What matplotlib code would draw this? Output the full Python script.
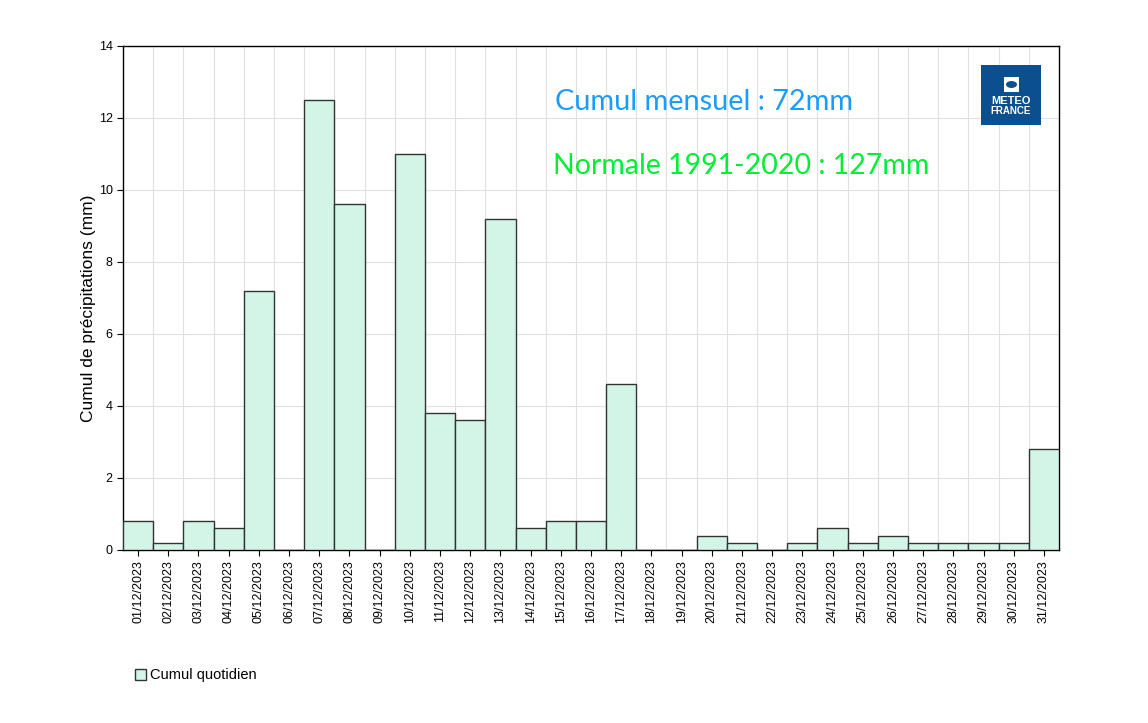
import matplotlib
matplotlib.use("Agg")
import matplotlib.pyplot as plt
from matplotlib.patches import Rectangle, Circle, Wedge

days = [f"{d:02d}/12/2023" for d in range(1, 32)]
values = [0.8, 0.2, 0.8, 0.6, 7.2, 0.0, 12.5, 9.6, 0.0, 11.0, 3.8, 3.6, 9.2,
          0.6, 0.8, 0.8, 4.6, 0.0, 0.0, 0.4, 0.2, 0.0, 0.2, 0.6, 0.2, 0.4,
          0.2, 0.2, 0.2, 0.2, 2.8]
y_ticks = [0, 2, 4, 6, 8, 10, 12, 14]
title_cumul = "Cumul mensuel : 72mm"
title_normale = "Normale 1991-2020 : 127mm"
ylabel = "Cumul de précipitations (mm)"
legend_label = "Cumul quotidien"

plt.rcParams['font.family'] = ['Liberation Sans', 'DejaVu Sans']
W, H = 1148, 723
fig = plt.figure(figsize=(W / 100, H / 100), dpi=100)
ax = fig.add_axes([123 / W, 1 - 550 / H, (1059 - 123) / W, (550 - 46) / H])

x = list(range(len(days)))
ax.bar(x, values, width=1.0, color="#d3f5e8", edgecolor="#333333", linewidth=1.0, zorder=3)
ax.set_xlim(-0.5, len(days) - 0.5)
ax.set_ylim(0, 14)
ax.set_yticks(y_ticks)
ax.set_yticklabels([str(v) for v in y_ticks], fontsize=9)
ax.set_xticks(x)
ax.set_xticklabels(days, rotation=90, fontsize=9)
ax.set_xticks([i + 0.5 for i in range(len(days) - 1)], minor=True)
ax.tick_params(axis='x', which='minor', length=0)
ax.tick_params(axis='x', which='major', length=4)
ax.tick_params(axis='y', length=4)
ax.grid(which='minor', axis='x', color="#e0e0e0", linewidth=0.8, zorder=0)
ax.grid(which='major', axis='y', color="#e0e0e0", linewidth=0.8, zorder=0)
for s in ax.spines.values():
    s.set_color("black")
    s.set_linewidth(1.0)
ax.set_ylabel(ylabel, fontsize=12.5)
ax.yaxis.set_label_coords(-27 / (1059 - 123), 0.48)

fig.text(555 / W, 1 - 102 / H, title_cumul, color="#1a9cff", fontsize=20.8,
         family=['Lato', 'DejaVu Sans'], va='center', ha='left')
fig.text(553 / W, 1 - 166 / H, title_normale, color="#00ee33", fontsize=20.5,
         family=['Lato', 'DejaVu Sans'], va='center', ha='left')

# logo
lx0, ly0, lw = 981, 65, 60
fig.patches.append(Rectangle((lx0 / W, 1 - (ly0 + lw) / H), lw / W, lw / H,
                             transform=fig.transFigure, facecolor="#0b4f8e",
                             edgecolor="none", zorder=5))
fig.patches.append(Rectangle((1004 / W, 1 - 92 / H), 15 / W, 15 / H,
                             transform=fig.transFigure, facecolor="white",
                             edgecolor="none", zorder=6))
fig.patches.append(Circle((1011.5 / W, 1 - 84.5 / H), 5.5 / W,
                          transform=fig.transFigure, facecolor="#0b4f8e",
                          edgecolor="none", zorder=7))
fig.text(1011 / W, 1 - 101 / H, "METEO", color="white", fontsize=8,
         fontweight='bold', ha='center', va='center', zorder=8)
fig.text(1011 / W, 1 - 111 / H, "FRANCE", color="white", fontsize=7,
         fontweight='bold', ha='center', va='center', zorder=8)

# legend
fig.patches.append(Rectangle((135 / W, 1 - 680 / H), 11 / W, 11 / H,
                             transform=fig.transFigure, facecolor="#d3f5e8",
                             edgecolor="#333333", linewidth=1.0, zorder=5))
fig.text(150 / W, 1 - 674.5 / H, legend_label, fontsize=10.5, va='center', ha='left')

fig.savefig("out.png", dpi=100, facecolor="white")
